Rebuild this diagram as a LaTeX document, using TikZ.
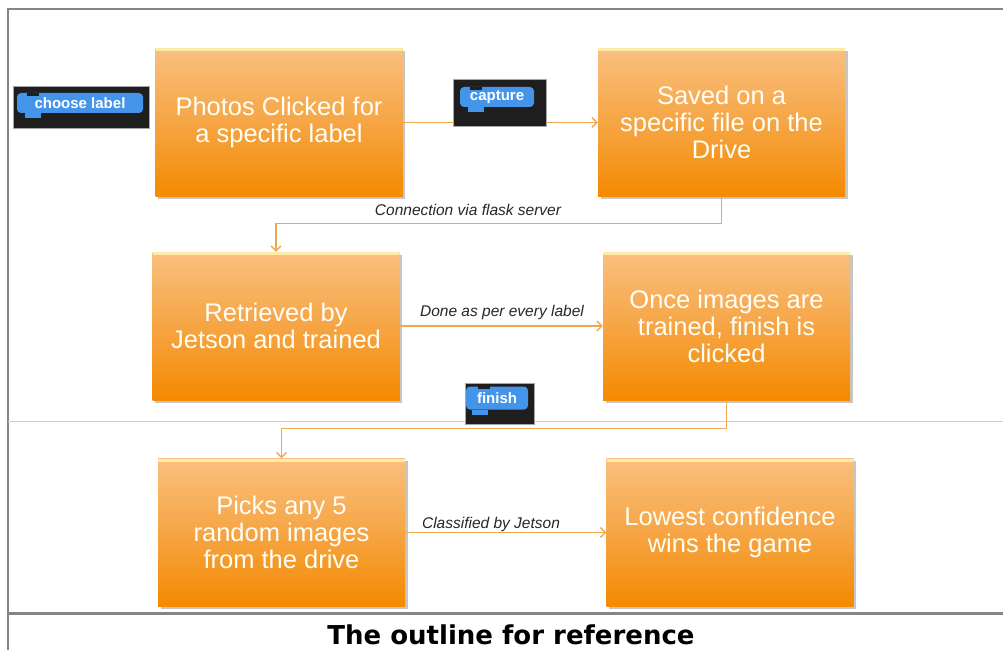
\documentclass[tikz,border=0pt]{standalone}
\usepackage{fontspec}
\setmainfont{Liberation Sans}
\newfontfamily\capfont{DejaVu Sans}
\usetikzlibrary{arrows.meta,shadows}

\definecolor{boxtop}{HTML}{F9C07F}
\definecolor{boxmid}{HTML}{F6A544}
\definecolor{boxbot}{HTML}{F48A00}
\definecolor{boxhl}{HTML}{FFEBA8}
\definecolor{flowline}{HTML}{F0A850}
\definecolor{blockblue}{HTML}{4494EA}
\definecolor{blockdark}{HTML}{1E1E1E}
\definecolor{framegray}{HTML}{858585}

\tikzset{
  stepbox/.style={minimum width=247pt, minimum height=148pt, inner sep=0pt,
    top color=boxtop, bottom color=boxbot, middle color=boxmid,
    drop shadow={opacity=0.45, shadow xshift=2.5pt, shadow yshift=-2.5pt},
    text=white!97!yellow, align=center, font=\fontsize{25.5}{27}\selectfont,
    path picture={\fill[boxhl] (path picture bounding box.north west)
      rectangle ([yshift=-3pt]path picture bounding box.north east);}},
  flow/.style={draw=flowline, line width=1.3pt, -{Straight Barb[length=5pt,width=10pt]}},
  flowlbl/.style={font=\fontsize{15.5}{18}\selectfont\itshape, text=black!85},
  scratchbg/.style={fill=blockdark, draw=gray!70, line width=0.6pt, inner sep=0pt},
  scratchblk/.style={fill=blockblue, rounded corners=4pt, text=white,
    font=\fontsize{15}{17}\selectfont\bfseries, inner sep=0pt}
}

\begin{document}
\begin{tikzpicture}[x=1pt,y=-1pt]
                \useasboundingbox (0,0) rectangle (1003,650);

                % frame
                \draw[framegray, line width=2pt] (8,650) -- (8,9) -- (1003,9);
                \draw[framegray, line width=3pt] (8,613) -- (1003,613);
                \draw[gray!40, line width=1pt] (8,421) -- (1003,421);

                % steps
                \node[stepbox] (photos) at (279,122.5) {Photos Clicked for\\a specific label};
                \node[stepbox] (saved) at (721.5,122.5) {Saved on a\\specific file on the\\Drive};
                \node[stepbox] (retrieved) at (276,326) {Retrieved by\\Jetson and trained};
                \node[stepbox] (trained) at (726.5,326) {Once images are\\trained, finish is\\clicked};
                \node[stepbox] (picks) at (281.5,532.5) {Picks any 5\\random images\\from the drive};
                \node[stepbox] (lowest) at (730,532.5) {Lowest confidence\\wins the game};

                % connectors
                \draw[flow] (photos) -- (saved);
                \draw[flow] (saved.south) -- ++(0,27) -| (retrieved.north);
                \draw[flow] (retrieved) -- (trained);
                \draw[flow] (trained.south) -- ++(0,28) -| (picks.north);
                \draw[flow] (picks) -- (lowest);

                \node[flowlbl] (flasklbl) at (468,210) {Connection via flask server};
                \node[flowlbl] (donelbl) at (502,312) {Done as per every label};
                \node[flowlbl] (classlbl) at (491,524) {Classified by Jetson};

                % choose label block
                \node[scratchbg, minimum width=136pt, minimum height=42pt] (choosebg) at (81,107) {};
                \node[scratchblk, minimum width=126pt, minimum height=20pt] (choose) at (80,103) {choose label};
                \fill[blockblue] ([xshift=8pt]choose.south west) rectangle ++(16,5);
                \fill[blockdark] ([xshift=10pt]choose.north west) rectangle ++(12,3);

                % capture block
                \node[scratchbg, minimum width=93pt, minimum height=47pt] (capturebg) at (499.5,102.5) {};
                \node[scratchblk, minimum width=74pt, minimum height=20pt] (capture) at (497,97) {capture};
                \fill[blockblue] ([xshift=8pt]capture.south west) rectangle ++(16,5);
                \fill[blockdark] ([xshift=10pt]capture.north west) rectangle ++(12,3);

                % finish block
                \node[scratchbg, minimum width=69pt, minimum height=41pt] (finishbg) at (499.5,403.5) {};
                \node[scratchblk, minimum width=62pt, minimum height=23pt] (finish) at (497,398) {finish};
                \fill[blockblue] ([xshift=6pt]finish.south west) rectangle ++(16,5);
                \fill[blockdark] ([xshift=12pt]finish.north west) rectangle ++(12,3);

                % caption
                \node[font=\capfont\bfseries\fontsize{26}{30}\selectfont] (caption) at (511,635) {The outline for reference};
            \end{tikzpicture}
\end{document}
